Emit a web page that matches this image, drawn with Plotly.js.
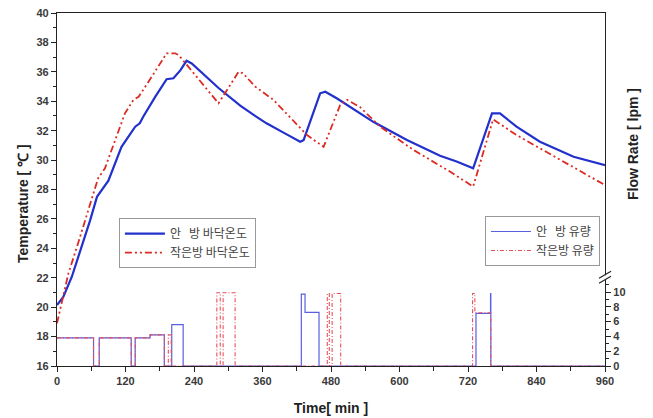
<!DOCTYPE html>
<html>
<head>
<meta charset="utf-8">
<script src="https://cdn.plot.ly/plotly-3.0.1.min.js"></script>
<style>html,body{margin:0;padding:0;background:#fff;}#chart{width:653px;height:418px;}</style>
</head>
<body>
<div id="chart"></div>
<script>
// Temperature series (min, °C)
const tBigRoom = [0, 11, 26, 43, 58, 70, 78, 90, 113, 137, 145, 151, 172, 192, 204, 216, 227, 236, 283, 321, 347, 367, 400, 426, 432, 461, 470, 490, 554, 613, 671, 700, 729, 762, 776, 805, 846, 905, 960];
const tempBigRoom = [20.15, 20.7, 22.07, 24.1, 25.9, 27.5, 27.96, 28.6, 30.9, 32.27, 32.5, 32.95, 34.3, 35.5, 35.56, 36.1, 36.75, 36.57, 34.9, 33.7, 33.0, 32.5, 31.8, 31.25, 31.36, 34.54, 34.65, 34.2, 32.6, 31.36, 30.3, 29.9, 29.44, 33.18, 33.18, 32.27, 31.25, 30.23, 29.66];

const tSmallRoom = [0, 20, 35, 55, 72, 84, 105, 119, 134, 143, 166, 192, 207, 213, 230, 283, 318, 326, 347, 379, 438, 467, 496, 508, 531, 566, 624, 689, 729, 764, 805, 846, 905, 960];
const tempSmallRoom = [18.9, 22.3, 24.1, 26.6, 28.76, 29.44, 31.6, 33.18, 34.1, 34.3, 35.67, 37.26, 37.26, 37.14, 36.35, 33.86, 36.0, 35.9, 35.0, 34.1, 31.7, 30.9, 33.74, 34.1, 33.6, 32.27, 30.7, 29.2, 28.2, 32.77, 31.7, 30.8, 29.55, 28.3];

// Flow rate series (min, lpm) — step values
const tFlowBig = [0, 64, 74, 130, 137, 163, 188, 201, 221, 428, 434.5, 459, 734, 759.5, 760, 960];
const flowBig = [3.8, 0, 3.8, 0, 3.8, 4.2, 0, 5.6, 0, 9.7, 7.25, 0, 7.1, 9.8, 0, 0];

const tFlowSmall = [0, 64, 74, 130, 137, 163, 188, 195, 200, 280, 286, 291, 312, 473.5, 477, 482, 497, 728, 732, 760, 960];
const flowSmall = [3.8, 0, 3.8, 0, 3.8, 4.2, 0, 4.2, 0, 9.9, 0, 9.9, 0, 9.8, 0, 9.8, 0, 9.8, 7.2, 0, 0];

const names = ["안\u00a0\u00a0\u00a0방 바닥온도", "작은방 바닥온도", "안\u00a0\u00a0\u00a0방 유량", "작은방 유량"];
const xTicks = [0, 120, 240, 360, 480, 600, 720, 840, 960];
const flowTicks = [0, 2, 4, 6, 8, 10];

const tickFont = {family: "Liberation Sans, Arial, sans-serif", size: 11, color: "#3a3a3a", weight: "bold"};
const titleFont = {family: "Liberation Sans, Arial, sans-serif", size: 14, color: "#222", weight: "bold"};

const traces = [
  {x: tFlowBig, y: flowBig, yaxis: "y2", type: "scatter", mode: "lines", line: {shape: "hv", color: "#5a5fe0", width: 1.2}, name: names[2], legend: "legend2"},
  {x: tFlowSmall, y: flowSmall, yaxis: "y2", type: "scatter", mode: "lines", line: {shape: "hv", color: "#e8505a", width: 1.1, dash: "4px,2px,1px,2px"}, name: names[3], legend: "legend2"},
  {x: tBigRoom, y: tempBigRoom, type: "scatter", mode: "lines", line: {color: "#2230cc", width: 2.2}, name: names[0], legend: "legend"},
  {x: tSmallRoom, y: tempSmallRoom, type: "scatter", mode: "lines", line: {color: "#dd2a22", width: 1.8, dash: "7px,3px,2px,3px,2px,3px"}, name: names[1], legend: "legend"}
];

const legendFont = {family: "Noto Sans CJK KR, sans-serif", size: 12, color: "#444"};

const layout = {
  width: 653, height: 418,
  margin: {l: 57, r: 48, t: 13, b: 52},
  paper_bgcolor: "#fff", plot_bgcolor: "#fff",
  showlegend: true,
  xaxis: {
    range: [0, 960], tickvals: xTicks, ticks: "outside", ticklen: 5, tickwidth: 1, tickcolor: "#222",
    showline: true, linecolor: "#222", linewidth: 1.3, mirror: true, showgrid: false, zeroline: false,
    tickfont: tickFont,
    minor: {tickmode: "linear", tick0: 60, dtick: 120, ticks: "outside", ticklen: 4, tickcolor: "#222", showgrid: false},
    title: {text: "Time[ min ]", font: titleFont, standoff: 16}
  },
  yaxis: {
    range: [16, 40], dtick: 2, tick0: 16, ticks: "outside", ticklen: 5, tickcolor: "#222",
    showline: true, linecolor: "#222", linewidth: 1.3, showgrid: false, zeroline: false,
    tickfont: tickFont,
    minor: {dtick: 1, ticks: "outside", ticklen: 3, tickcolor: "#222", showgrid: false}
  },
  yaxis2: {
    overlaying: "y", side: "right", range: [0, 47.7],
    tickvals: flowTicks, ticks: "outside", ticklen: 5, tickcolor: "#222",
    showline: true, linecolor: "#222", linewidth: 1.3, showgrid: false, zeroline: false,
    tickfont: tickFont,
    minor: {tickmode: "array", tickvals: [1, 3, 5, 7, 9, 11], ticks: "outside", ticklen: 3, tickcolor: "#222", showgrid: false}
  },
  legend: {
    x: 0.113, y: 0.419, xanchor: "left", yanchor: "top",
    bgcolor: "#fff", bordercolor: "#999", borderwidth: 1,
    font: legendFont, itemwidth: 40, tracegroupgap: 0, traceorder: "normal"
  },
  legend2: {
    x: 0.781, y: 0.425, xanchor: "left", yanchor: "top",
    bgcolor: "#fff", bordercolor: "#999", borderwidth: 1,
    font: legendFont, itemwidth: 40, tracegroupgap: 0, traceorder: "normal"
  },
  annotations: [
    {text: "Temperature [ \u2103 ]", xref: "paper", yref: "paper", x: -0.063, y: 0.46, xanchor: "center", yanchor: "middle",
     textangle: -90, showarrow: false, font: titleFont},
    {text: "Flow Rate [ lpm ]", xref: "paper", yref: "paper", x: 1.05, y: 0.63, xanchor: "center", yanchor: "middle",
     textangle: -90, showarrow: false, font: titleFont}
  ],
  shapes: [
    {type: "line", xref: "paper", yref: "y2", xsizemode: "pixel", ysizemode: "pixel", xanchor: 1, yanchor: 12,
     x0: 0, x1: 0, y0: -2, y1: 2, line: {color: "#fff", width: 4}, layer: "above"},
    {type: "line", xref: "paper", yref: "y2", xsizemode: "pixel", ysizemode: "pixel", xanchor: 1, yanchor: 12,
     x0: -6, x1: 6, y0: -6, y1: 1, line: {color: "#222", width: 1.2}, layer: "above"},
    {type: "line", xref: "paper", yref: "y2", xsizemode: "pixel", ysizemode: "pixel", xanchor: 1, yanchor: 12,
     x0: -6, x1: 6, y0: -1, y1: 6, line: {color: "#222", width: 1.2}, layer: "above"}
  ]
};

Plotly.newPlot("chart", traces, layout, {displayModeBar: false, responsive: false});
</script>
</body>
</html>
